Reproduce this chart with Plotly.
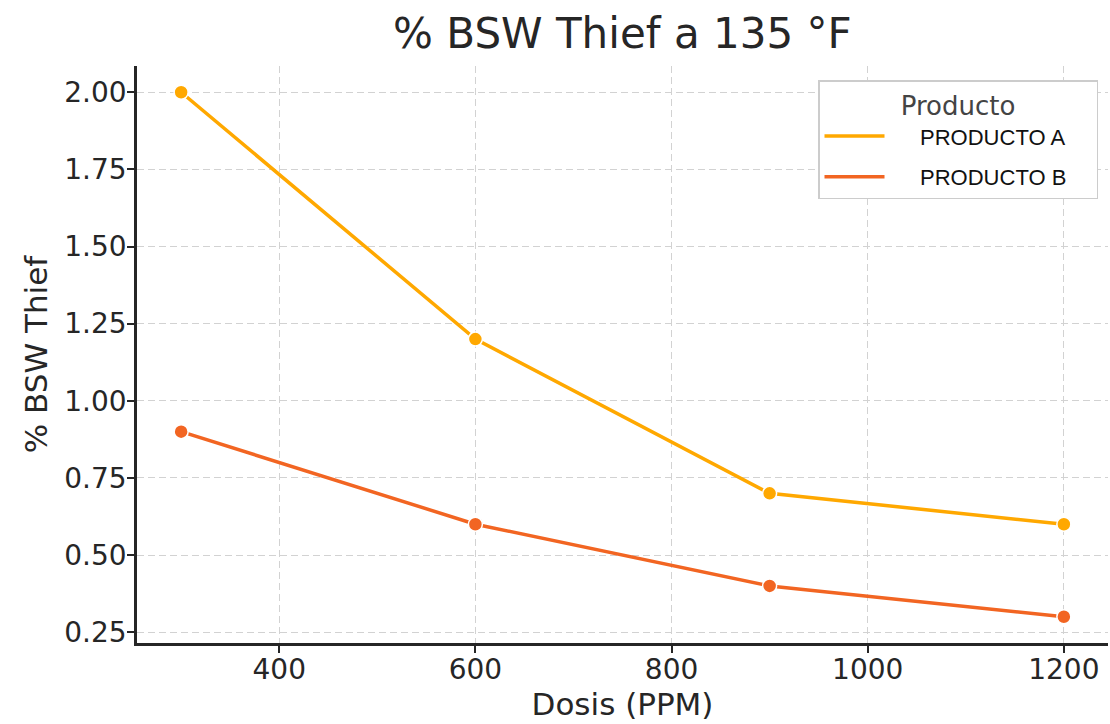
import plotly.graph_objects as go

# Dosis (PPM) and % BSW Thief per product at 135 °F
dosis = [300, 600, 900, 1200]
producto_a = [2.00, 1.20, 0.70, 0.60]
producto_b = [0.90, 0.60, 0.40, 0.30]
series_names = ["PRODUCTO A", "PRODUCTO B"]
series_colors = ["#FFA800", "#F26522"]

NBSP = "\u00a0"
fig = go.Figure()

for name, vals, color in zip(series_names, [producto_a, producto_b], series_colors):
    fig.add_trace(go.Scatter(
        x=dosis, y=vals, mode="lines+markers", name=name, showlegend=False,
        line=dict(color=color, width=3.5),
        marker=dict(size=14, color=color, line=dict(color="white", width=1.5)),
    ))
    # legend entry showing only the line
    fig.add_trace(go.Scatter(
        x=[None], y=[None], mode="lines", legendgroup=name,
        name=NBSP * 5 + name + NBSP * 4,
        line=dict(color=color, width=3.5),
    ))

axis_common = dict(
    showgrid=True, gridcolor="#d2d2d2", griddash="7px,4px", gridwidth=1,
    showline=True, linecolor="#262626", linewidth=2.5,
    ticks="outside", ticklen=7, tickwidth=2, tickcolor="#262626",
    tickfont=dict(family="DejaVu Sans", size=28, color="#262626"),
    zeroline=False, mirror=False, automargin=False,
)

fig.update_layout(
    width=1110, height=724,
    margin=dict(l=137, r=2, t=66, b=81, autoexpand=False),
    paper_bgcolor="white", plot_bgcolor="white",
    title=dict(text="% BSW Thief a 135 °F", x=0.5607, xanchor="center", y=0.954, yanchor="middle",
               font=dict(family="DejaVu Sans", size=42, color="#262626")),
    xaxis=dict(axis_common, range=[255, 1245], tickvals=[400, 600, 800, 1000, 1200],
               ticklabelstandoff=-7,
               title=dict(text="Dosis (PPM)", font=dict(family="DejaVu Sans", size=31, color="#262626"),
                          standoff=4)),
    yaxis=dict(axis_common, range=[0.215, 2.085], tick0=0.25, dtick=0.25, tickformat=".2f",
               ticklabelstandoff=-5,
               title=dict(text="% BSW Thief", font=dict(family="DejaVu Sans", size=31, color="#262626"),
                          standoff=8)),
    legend=dict(
        xref="container", yref="container",
        x=818 / 1110, y=1 - 80 / 724, xanchor="left", yanchor="top",
        bgcolor="white", bordercolor="#cccccc", borderwidth=1.5,
        font=dict(family="Liberation Sans", size=22, color="#111111"),
        title=dict(text="Producto", side="top center",
                   font=dict(family="DejaVu Sans", size=26, color="#444444")),
        itemwidth=60, tracegroupgap=9,
    ),
)

fig.write_html("out.html")
